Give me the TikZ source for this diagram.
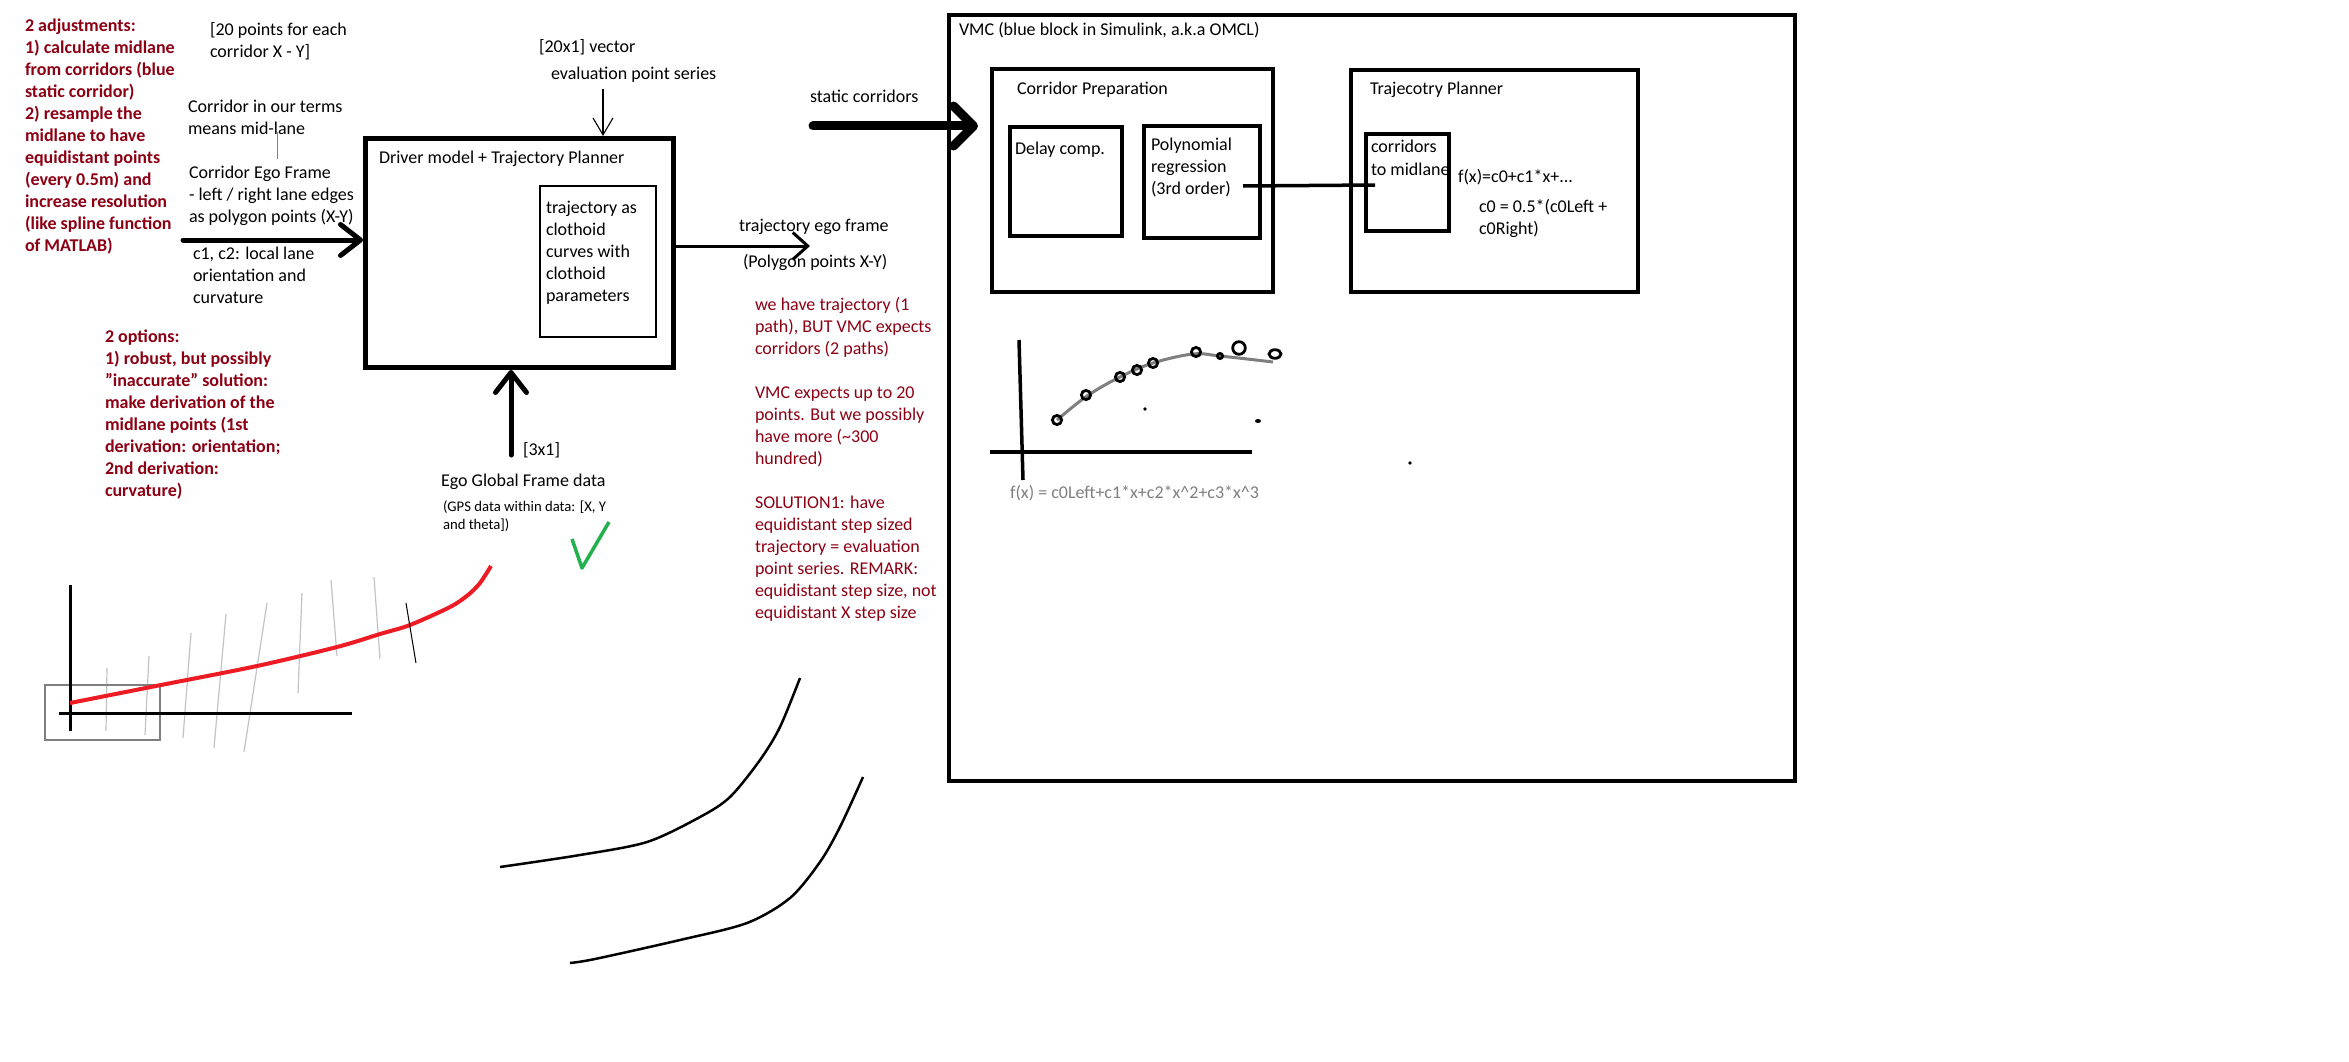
\documentclass[tikz,border=0pt]{standalone}
\usepackage{fontspec}
\setmainfont{Carlito}
\usetikzlibrary{arrows.meta}
\definecolor{dred}{RGB}{140,0,20}
\definecolor{mgrey}{RGB}{127,127,127}
\definecolor{lgrey}{RGB}{195,195,195}
\definecolor{pgreen}{RGB}{34,177,76}
\definecolor{pred}{RGB}{237,28,36}
\newcommand{\mlines}[1]{\begin{tabular}[t]{@{}l@{}}#1\end{tabular}}
\tikzset{
  txt/.style={anchor=base west, inner sep=0pt, outer sep=0pt, font=\fontsize{18}{22}\selectfont},
  smalltxt/.style={txt, font=\fontsize{14.7}{18}\selectfont},
  rtxt/.style={txt, text=dred},
  rtxtb/.style={txt, text=dred, font=\fontsize{18}{22}\selectfont\bfseries},
  gtxt/.style={txt, text=mgrey},
  blk/.style={draw, line width=#1, inner sep=0pt, fill=none},
  arrL/.style={line width=5pt, line cap=round, -{Straight Barb[length=20pt,width=31pt,round]}},
  arrS/.style={line width=9pt, line cap=round, -{Straight Barb[length=20pt,width=40pt,round]}},
  arrO/.style={line width=3pt, -{Straight Barb[length=15pt,width=27pt]}},
  arrT/.style={line width=1.1pt, -{Straight Barb[length=17pt,width=20pt]}},
  circ/.style={draw, line width=2.8pt},
}
\begin{document}
\begin{tikzpicture}[x=1pt,y=-1pt]
\fill[white] (0,0) rectangle (2349,1062);
\useasboundingbox (0,0) rectangle (2349,1062);

% ---------- blocks ----------
\node[blk=5pt, minimum width=308pt, minimum height=229pt] (drv) at (519.5,253) {};
\node[blk=1.1pt, minimum width=116pt, minimum height=151pt] (clo) at (598,261.5) {};
\node[blk=4pt, minimum width=846pt, minimum height=766pt] (vmc) at (1372,398) {};
\node[blk=3.5pt, minimum width=281pt, minimum height=223pt] (prep) at (1132.5,180.5) {};
\node[blk=3.5pt, minimum width=112pt, minimum height=109pt] (delay) at (1066,181.5) {};
\node[blk=3.5pt, minimum width=116pt, minimum height=112pt] (poly) at (1202,182) {};
\node[blk=3.5pt, minimum width=287pt, minimum height=222pt] (tp) at (1494.5,181) {};
\node[blk=3.5pt, minimum width=83pt, minimum height=97pt] (c2m) at (1407.5,182.5) {};

% ---------- texts ----------
\node[rtxtb] (adj) at (25,32) {\mlines{2 adjustments:\\1) calculate midlane\\from corridors (blue\\static corridor)\\2) resample the\\midlane to have\\equidistant points\\(every 0.5m) and\\increase resolution\\(like spline function\\of MATLAB)}};
\node[txt] (pts) at (210,36) {\mlines{[20 points for each\\corridor X - Y]}};
\node[txt] (terms) at (188,113) {\mlines{Corridor in our terms\\means mid-lane}};
\node[txt] (cef) at (189,178) {\mlines{Corridor Ego Frame\\- left / right lane edges\\as polygon points (X-Y)}};
\node[txt] (cc) at (193,259) {\mlines{c1, c2: local lane\\orientation and\\curvature}};
\node[rtxtb] (opt) at (105,342) {\mlines{2 options:\\1) robust, but possibly\\"inaccurate" solution:\\make derivation of the\\midlane points (1st\\derivation: orientation;\\2nd derivation:\\curvature)}};
\node[txt] (drvlab) at (379,163) {Driver model + Trajectory Planner};
\node[txt] (clolab) at (546,213) {\mlines{trajectory as\\clothoid\\curves with\\clothoid\\parameters}};
\node[txt] (vec) at (539,53) {[20x1] vector};
\node[txt] (eps) at (551,80) {evaluation point series};
\node[txt] (stat) at (810,103) {static corridors};
\node[txt] (tef) at (739,231) {trajectory ego frame};
\node[txt] (ppxy) at (743,267) {(Polygon points X-Y)};
\node[rtxt] (note) at (755,310) {\mlines{we have trajectory (1\\path), BUT VMC expects\\corridors (2 paths)\\ \\VMC expects up to 20\\points. But we possibly\\have more (\textasciitilde 300\\hundred)\\ \\SOLUTION1: have\\equidistant step sized\\trajectory = evaluation\\point series. REMARK:\\equidistant step size, not\\equidistant X step size}};
\node[txt] (s31) at (523,455) {[3x1]};
\node[txt] (egf) at (441,486) {Ego Global Frame data};
\node[smalltxt] (gps) at (443,511) {\mlines{(GPS data within data: [X, Y\\and theta])}};
\node[txt] (vmclab) at (959,36) {VMC (blue block in Simulink, a.k.a OMCL)};
\node[txt] (preplab) at (1017,95) {Corridor Preparation};
\node[txt] (delaylab) at (1015,154) {Delay comp.};
\node[txt] (polylab) at (1151,150) {\mlines{Polynomial\\regression\\(3rd order)}};
\node[txt] (tplab) at (1370,95) {Trajecotry Planner};
\node[txt] (c2mlab) at (1371,153) {\mlines{corridors\\to midlane}};
\node[txt] (fx) at (1458,182) {f(x)=c0+c1*x+...};
\node[txt] (c0) at (1479,212) {\mlines{c0 = 0.5*(c0Left +\\c0Right)}};
\node[gtxt] (fxl) at (1010,498) {f(x) = c0Left+c1*x+c2*x\textasciicircum 2+c3*x\textasciicircum 3};

% ---------- connectors ----------
\coordinate (ct1) at (277,132);
\coordinate (ct2) at (277,159);
\draw[mgrey, line width=1pt] (ct1) -- (ct2);

\coordinate (inS) at (183,240);
\draw[arrL] (inS) -- (inS -| drv.west);

\coordinate (gIn) at (511,455);
\draw[arrL] (gIn) -- (gIn |- drv.south);

\coordinate (evIn) at (603,89);
\draw[arrT] (evIn) -- (evIn |- drv.north);

\coordinate (outE) at (810,246);
\draw[arrO] (drv.east |- outE) -- (outE);

\coordinate (scS) at (813,126);
\coordinate (scE) at (978,126);
\draw[arrS] (scS) -- (scE);

\coordinate (pr) at (1243,186);
\coordinate (cm) at (1375,185);
\draw[line width=3.5pt] (pr) -- (cm);

% ---------- left sketch ----------
\begin{scope}[line width=1.2pt, lgrey]
\draw (107,668) -- (106,731);
\draw (149,656) -- (145,735);
\draw (191,633) -- (183,738);
\draw (226,614) -- (214,748);
\draw (267,603) -- (244,752);
\draw (302,593) -- (298,693);
\draw (331,580) -- (337,656);
\draw (374,577) -- (380,659);
\end{scope}
\draw[mgrey, line width=2.5pt] (45,685) rectangle (160,740);
\draw[line width=3pt] (70,585) -- (70,731);
\draw[line width=3pt] (59,713) -- (352,713);
\draw[pred, line width=4pt] plot[smooth, tension=0.5] coordinates {(70,703) (161,685) (257,666) (337,647) (380,634) (410,625) (450,607) (468,595) (480,583) (491,566)};
\draw[line width=1pt] (406,603) -- (416,663);

% green check
\draw[pgreen, line width=3.5pt, line join=round] (572,539) -- (582,568) -- (609,522);

% ---------- bottom curves ----------
\draw[line width=2.5pt] plot[smooth, tension=0.5] coordinates {(500,867) (580,855) (647,842) (700,817) (730,797) (760,760) (780,727) (800,678)};
\draw[line width=2.5pt] plot[smooth, tension=0.5] coordinates {(570,963) (595,959) (680,940) (747,923) (790,898) (820,862) (840,827) (863,777)};

% ---------- regression sketch ----------
\draw[line width=3.5pt] (1019,340) -- (1023,480);
\draw[line width=3.5pt] (990,452) -- (1252,452);
\draw[mgrey, line width=3pt] plot[smooth, tension=0.6] coordinates {(1057,420) (1087,396) (1120,377) (1153,363) (1193,354) (1220,356) (1273,362)};
\draw[circ] (1057,420) circle[radius=4.6pt];
\draw[circ] (1086,395) circle[radius=4.6pt];
\draw[circ] (1120,377) circle[radius=4.6pt];
\draw[circ] (1137,370) circle[radius=4.6pt];
\draw[circ] (1153,363) circle[radius=4.6pt];
\draw[circ] (1196,352) circle[radius=4.6pt];
\draw[circ] (1220,356) circle[radius=2.6pt];
\draw[circ] (1239,348) circle[radius=6.3pt];
\draw[circ] (1275,354) ellipse[x radius=6pt, y radius=4.3pt];
\fill (1145,409) circle[radius=1.8pt];
\fill (1258,421) ellipse[x radius=3pt, y radius=2pt];
\fill (1410,463) circle[radius=1.8pt];
\end{tikzpicture}
\end{document}
